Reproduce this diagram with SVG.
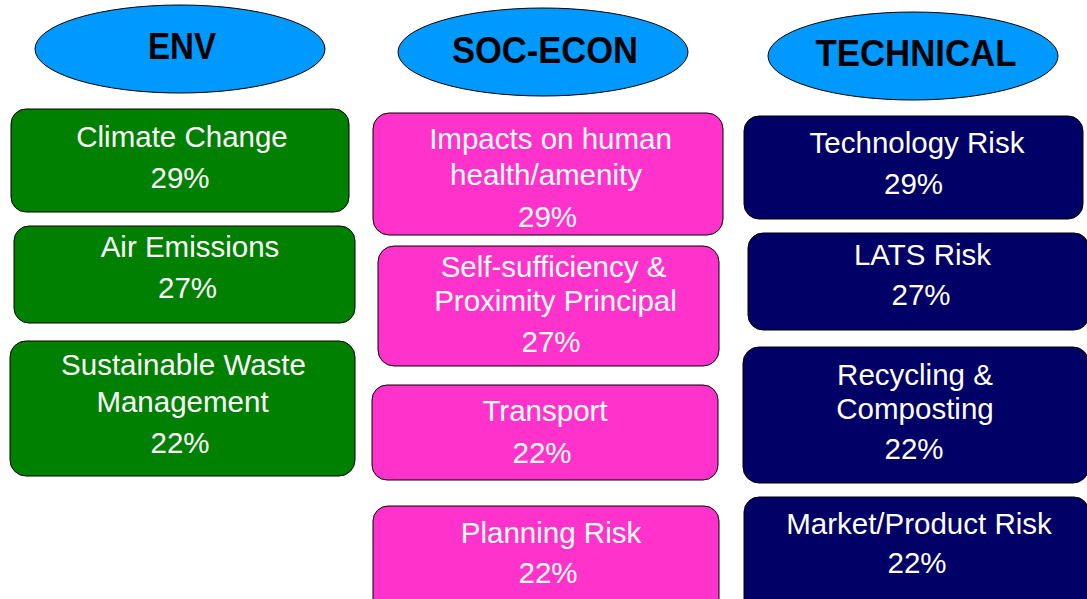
<svg xmlns="http://www.w3.org/2000/svg" width="1087" height="599" viewBox="0 0 1087 599">
  <style>
    .head { fill: #0099ff; stroke: #000; stroke-width: 1; }
    .head-t { font-family: "Liberation Sans", Arial, sans-serif; font-weight: bold; font-size: 36px; fill: #000; text-anchor: middle; }
    .box { stroke: #000; stroke-width: 1; }
    .env { fill: #008000; }
    .soc { fill: #ff33cc; }
    .tech { fill: #000066; }
    .lbl { font-family: "Liberation Sans", Arial, sans-serif; font-size: 29.5px; fill: #fff; text-anchor: middle; }
  </style>
  <rect width="1087" height="599" fill="#fff"/>

  <!-- column headers -->
  <g id="hdr-env">
    <ellipse class="head" cx="180" cy="49" rx="145" ry="44"/>
    <text class="head-t" x="182" y="59" textLength="68" lengthAdjust="spacingAndGlyphs">ENV</text>
  </g>
  <g id="hdr-soc">
    <ellipse class="head" cx="543" cy="52" rx="145" ry="44"/>
    <text class="head-t" x="545" y="63" textLength="186" lengthAdjust="spacingAndGlyphs">SOC-ECON</text>
  </g>
  <g id="hdr-tech">
    <ellipse class="head" cx="913" cy="56" rx="145" ry="44"/>
    <text class="head-t" x="916" y="66" textLength="201" lengthAdjust="spacingAndGlyphs">TECHNICAL</text>
  </g>

  <!-- ENV column -->
  <g id="climate">
    <rect class="box env" x="11" y="109" width="338" height="103" rx="15"/>
    <text class="lbl" x="182" y="147">Climate Change</text>
    <text class="lbl" x="180" y="188">29%</text>
  </g>
  <g id="air">
    <rect class="box env" x="14" y="226" width="341" height="97" rx="15"/>
    <text class="lbl" x="190" y="257">Air Emissions</text>
    <text class="lbl" x="187.5" y="298">27%</text>
  </g>
  <g id="waste">
    <rect class="box env" x="10" y="341" width="345" height="135" rx="16"/>
    <text class="lbl" x="183.5" y="375">Sustainable Waste</text>
    <text class="lbl" x="182.5" y="412">Management</text>
    <text class="lbl" x="180" y="453">22%</text>
  </g>

  <!-- SOC-ECON column -->
  <g id="health">
    <rect class="box soc" x="373" y="113" width="350" height="122" rx="16"/>
    <text class="lbl" x="550.5" y="149">Impacts on human</text>
    <text class="lbl" x="546" y="185">health/amenity</text>
    <text class="lbl" x="547.5" y="227">29%</text>
  </g>
  <g id="proximity">
    <rect class="box soc" x="378" y="246" width="341" height="120" rx="16"/>
    <text class="lbl" x="553.5" y="277">Self-sufficiency &amp;</text>
    <text class="lbl" x="555.5" y="311">Proximity Principal</text>
    <text class="lbl" x="551" y="352">27%</text>
  </g>
  <g id="transport">
    <rect class="box soc" x="372" y="385" width="346" height="95" rx="15"/>
    <text class="lbl" x="545" y="421">Transport</text>
    <text class="lbl" x="542" y="463">22%</text>
  </g>
  <g id="planning">
    <rect class="box soc" x="373" y="506" width="346" height="110" rx="15"/>
    <text class="lbl" x="551" y="543">Planning Risk</text>
    <text class="lbl" x="548" y="583">22%</text>
  </g>

  <!-- TECHNICAL column -->
  <g id="technology">
    <rect class="box tech" x="744" y="116" width="339" height="103" rx="15"/>
    <text class="lbl" x="917" y="153">Technology Risk</text>
    <text class="lbl" x="913.5" y="194">29%</text>
  </g>
  <g id="lats">
    <rect class="box tech" x="748" y="233" width="341" height="97" rx="15"/>
    <text class="lbl" x="922.5" y="265">LATS Risk</text>
    <text class="lbl" x="921" y="305">27%</text>
  </g>
  <g id="recycling">
    <rect class="box tech" x="743" y="347" width="346" height="136" rx="16"/>
    <text class="lbl" x="915" y="385">Recycling &amp;</text>
    <text class="lbl" x="915" y="419">Composting</text>
    <text class="lbl" x="914" y="459">22%</text>
  </g>
  <g id="market">
    <rect class="box tech" x="744" y="497" width="345" height="120" rx="15"/>
    <text class="lbl" x="919" y="534">Market/Product Risk</text>
    <text class="lbl" x="917" y="573">22%</text>
  </g>
</svg>
